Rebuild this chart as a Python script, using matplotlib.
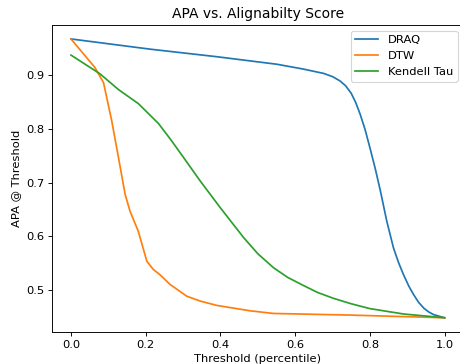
import matplotlib
matplotlib.use("Agg")
import matplotlib.pyplot as plt

# values
draq_x = [0.0, 0.212, 0.39, 0.551, 0.622, 0.676, 0.70, 0.72, 0.735, 0.75, 0.762, 0.774, 0.787, 0.80, 0.814, 0.828, 0.845, 0.863, 0.877, 0.89, 0.904, 0.917, 0.93, 0.944, 0.957, 0.97, 0.985, 1.0]
draq_y = [0.967, 0.948, 0.934, 0.920, 0.911, 0.903, 0.897, 0.889, 0.880, 0.866, 0.849, 0.827, 0.799, 0.765, 0.727, 0.685, 0.629, 0.579, 0.551, 0.529, 0.508, 0.492, 0.478, 0.467, 0.460, 0.455, 0.452, 0.449]

dtw_x = [0.0, 0.064, 0.087, 0.109, 0.127, 0.145, 0.158, 0.18, 0.203, 0.22, 0.238, 0.265, 0.31, 0.346, 0.39, 0.479, 0.542, 0.747, 1.0]
dtw_y = [0.967, 0.914, 0.886, 0.815, 0.747, 0.678, 0.647, 0.61, 0.554, 0.539, 0.529, 0.511, 0.489, 0.48, 0.472, 0.462, 0.457, 0.454, 0.449]

kt_x = [0.0, 0.078, 0.127, 0.18, 0.234, 0.268, 0.301, 0.346, 0.399, 0.462, 0.50, 0.542, 0.58, 0.622, 0.66, 0.703, 0.75, 0.80, 0.89, 1.0]
kt_y = [0.937, 0.902, 0.873, 0.847, 0.81, 0.779, 0.747, 0.703, 0.654, 0.598, 0.568, 0.542, 0.524, 0.509, 0.496, 0.485, 0.475, 0.466, 0.456, 0.449]

# reference looks like a default 6.4x4.8 figure rendered at ~83 dpi, then cropped
dpi = 82.9
fig = plt.figure(figsize=(460 / dpi, 364 / dpi), dpi=dpi)
ax = fig.add_axes([0.1137, 0.0887, 0.8935, 0.8426])

ax.plot(draq_x, draq_y, label="DRAQ")
ax.plot(dtw_x, dtw_y, label="DTW")
ax.plot(kt_x, kt_y, label="Kendell Tau")

ax.set_title("APA vs. Alignabilty Score")
# keep the x label fully inside the picture
ax.set_xlabel("Threshold (percentile)")
ax.set_ylabel("APA @ Threshold")
ax.legend()

plt.savefig("out.png", dpi=dpi)
